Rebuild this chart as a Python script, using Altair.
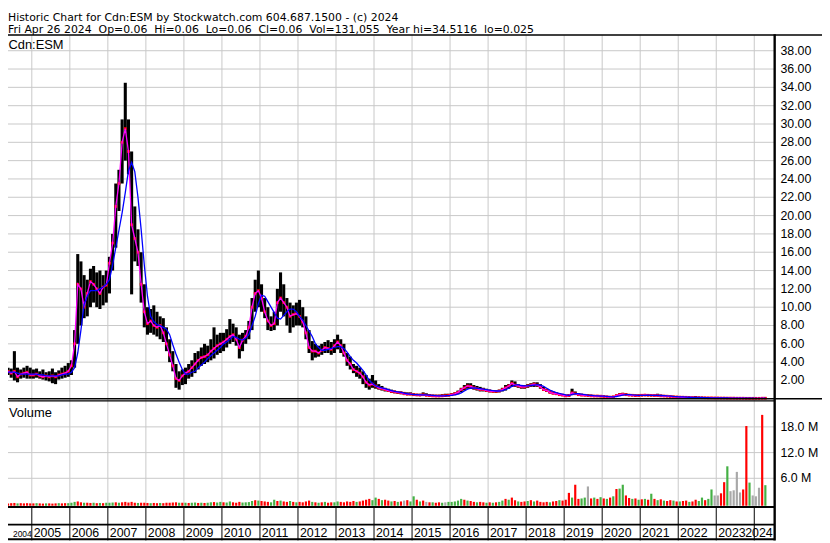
import altair as alt
import pandas as pd

# ---------------- data (monthly, May 2004 .. Apr 2024) ----------------
START_YEAR, START_MONTH = 2004, 5

HI = [
    3.4, 3.3, 5.2, 3.4, 3.2, 3.4, 3.6, 3.4,                                  # 2004 May-Dec
    3.2, 3.3, 3.0, 3.2, 2.9, 3.0, 3.3, 2.9, 3.1, 3.4, 3.6, 3.9,              # 2005
    4.2, 7.5, 15.8, 15.0, 13.5, 13.0, 14.2, 14.5, 13.8, 14.0, 13.5, 14.0,    # 2006
    15.5, 18.0, 23.5, 25.0, 30.5, 34.5, 30.5, 27.0, 21.0, 18.5, 16.0, 12.5,  # 2007
    10.0, 9.8, 10.2, 9.5, 9.0, 8.8, 7.8, 6.5, 5.2, 3.8, 3.0, 3.2,            # 2008
    3.4, 3.8, 4.2, 5.0, 5.2, 5.6, 6.0, 5.8, 6.5, 7.8, 7.0, 7.2,              # 2009
    7.2, 7.6, 8.7, 8.2, 7.8, 7.0, 7.2, 7.5, 8.5, 11.0, 13.0, 14.0,           # 2010
    12.5, 11.0, 10.0, 9.0, 9.5, 12.0, 13.8, 12.5, 11.0, 10.5, 10.2, 10.5,    # 2011
    10.8, 10.0, 9.0, 7.5, 6.3, 6.0, 5.8, 6.0, 6.2, 6.4, 6.2, 6.5,            # 2012
    7.0, 6.5, 6.0, 5.0, 4.6, 3.8, 3.6, 3.4, 3.0, 2.6, 2.2, 2.6,              # 2013
    2.0, 1.6, 1.4, 1.2, 1.1, 1.0, 0.9, 0.85, 0.8, 0.75, 0.7, 0.7,            # 2014
    0.6, 0.55, 0.55, 0.7, 0.6, 0.5, 0.45, 0.45, 0.45, 0.5, 0.55, 0.55,       # 2015
    0.6, 0.7, 0.9, 1.2, 1.5, 1.7, 1.7, 1.5, 1.4, 1.3, 1.2, 1.1,              # 2016
    1.0, 0.95, 0.95, 1.0, 1.2, 1.5, 1.6, 2.0, 1.9, 1.6, 1.5, 1.5,            # 2017
    1.6, 1.7, 1.8, 1.8, 1.6, 1.3, 1.1, 0.9, 0.8, 0.7, 0.6, 0.5,              # 2018
    0.45, 0.5, 1.1, 0.8, 0.6, 0.55, 0.5, 0.5, 0.45, 0.4, 0.4, 0.4,           # 2019
    0.35, 0.3, 0.28, 0.3, 0.45, 0.6, 0.65, 0.6, 0.5, 0.5, 0.45, 0.45,        # 2020
    0.5, 0.5, 0.48, 0.45, 0.45, 0.55, 0.45, 0.4, 0.38, 0.35, 0.32, 0.3,      # 2021
    0.25, 0.24, 0.22, 0.2, 0.2, 0.3, 0.18, 0.16, 0.15, 0.14, 0.14, 0.13,     # 2022
    0.12, 0.11, 0.1, 0.1, 0.09, 0.09, 0.09, 0.08, 0.08, 0.08, 0.08, 0.08,    # 2023
    0.08, 0.07, 0.08, 0.07,                                                  # 2024 Jan-Apr
]

LO = [
    2.6, 2.3, 2.0, 1.8, 2.2, 2.3, 2.2, 2.2,
    2.2, 2.3, 2.2, 2.1, 2.0, 1.9, 1.7, 1.6, 2.1, 2.2, 2.3, 2.4,
    2.6, 3.4, 6.0, 8.0, 8.8, 9.0, 10.0, 10.5, 10.0, 9.8, 10.2, 10.5,
    11.5, 14.0, 16.5, 20.5, 23.5, 26.0, 24.5, 11.4, 15.0, 14.5, 10.5, 7.8,
    7.0, 7.2, 7.0, 6.8, 6.5, 6.2, 5.2, 4.0, 3.0, 1.2, 1.0, 1.5,
    1.6, 2.2, 2.4, 2.8, 3.2, 3.6, 3.8, 4.0, 4.2, 4.4, 4.8, 5.0,
    5.2, 5.6, 6.0, 6.2, 5.8, 4.4, 5.2, 6.0, 6.5, 7.5, 9.5, 10.0,
    9.5, 8.8, 7.5, 7.4, 7.5, 8.0, 9.5, 9.0, 8.0, 7.2, 7.8, 8.0,
    8.0, 7.8, 6.5, 5.0, 4.2, 4.5, 4.6, 4.8, 5.0, 5.0, 4.8, 5.0,
    5.4, 5.0, 4.6, 3.6, 3.2, 2.8, 2.4, 2.2, 1.6, 1.2, 1.0, 1.2,
    1.1, 1.0, 0.9, 0.8, 0.75, 0.65, 0.6, 0.55, 0.5, 0.45, 0.4, 0.4,
    0.35, 0.35, 0.3, 0.3, 0.3, 0.28, 0.25, 0.22, 0.22, 0.25, 0.25, 0.28,
    0.35, 0.4, 0.5, 0.7, 0.9, 1.1, 1.1, 1.0, 0.9, 0.8, 0.8, 0.75,
    0.7, 0.7, 0.65, 0.7, 0.8, 0.9, 1.1, 1.3, 1.3, 1.2, 1.1, 1.1,
    1.2, 1.3, 1.3, 1.3, 1.1, 0.9, 0.75, 0.6, 0.5, 0.45, 0.35, 0.3,
    0.25, 0.25, 0.4, 0.45, 0.35, 0.3, 0.3, 0.28, 0.25, 0.22, 0.22, 0.2,
    0.2, 0.18, 0.12, 0.15, 0.2, 0.35, 0.4, 0.38, 0.32, 0.3, 0.28, 0.28,
    0.3, 0.32, 0.3, 0.3, 0.28, 0.28, 0.25, 0.25, 0.22, 0.2, 0.18, 0.15,
    0.14, 0.13, 0.12, 0.12, 0.1, 0.1, 0.1, 0.09, 0.08, 0.08, 0.07, 0.07,
    0.06, 0.06, 0.05, 0.05, 0.05, 0.05, 0.04, 0.04, 0.04, 0.03, 0.03, 0.03,
    0.03, 0.03, 0.03, 0.04,
]

CL = [
    3.0, 2.8, 3.0, 2.4, 2.7, 2.8, 2.9, 2.6,
    2.6, 2.7, 2.5, 2.4, 2.5, 2.4, 2.5, 2.4, 2.6, 2.7, 2.8, 3.0,
    3.6, 6.0, 12.5, 12.0, 10.0, 11.5, 12.8, 12.5, 12.0, 11.5, 12.2, 12.4,
    14.8, 17.0, 21.0, 23.5, 28.0, 29.5, 27.0, 19.0, 17.5, 16.0, 12.5, 9.5,
    8.2, 8.5, 8.0, 7.8, 8.0, 7.2, 6.0, 4.8, 3.6, 2.2, 2.0, 2.5,
    2.8, 3.0, 3.4, 3.8, 4.2, 4.5, 4.6, 4.8, 5.2, 5.5, 5.8, 6.0,
    6.2, 6.5, 6.8, 7.0, 6.5, 5.6, 6.4, 6.8, 7.8, 10.0, 11.5, 11.8,
    11.0, 9.5, 8.5, 8.0, 8.2, 10.5, 11.0, 10.5, 10.0, 9.0, 9.2, 9.3,
    9.0, 8.4, 7.2, 5.6, 5.2, 5.2, 5.0, 5.3, 5.6, 5.5, 5.4, 5.8,
    6.2, 5.8, 5.0, 4.2, 3.8, 3.2, 3.0, 2.8, 2.4, 1.8, 1.5, 1.6,
    1.4, 1.2, 1.1, 1.0, 0.9, 0.8, 0.75, 0.7, 0.65, 0.55, 0.5, 0.5,
    0.45, 0.42, 0.4, 0.45, 0.38, 0.35, 0.32, 0.3, 0.3, 0.32, 0.35, 0.38,
    0.45, 0.55, 0.7, 1.0, 1.2, 1.4, 1.35, 1.2, 1.1, 1.0, 1.0, 0.9,
    0.85, 0.8, 0.8, 0.85, 1.0, 1.2, 1.4, 1.7, 1.5, 1.4, 1.3, 1.3,
    1.4, 1.5, 1.6, 1.5, 1.3, 1.0, 0.9, 0.7, 0.6, 0.55, 0.45, 0.4,
    0.32, 0.35, 0.65, 0.55, 0.45, 0.4, 0.38, 0.35, 0.32, 0.3, 0.3, 0.28,
    0.25, 0.22, 0.18, 0.22, 0.35, 0.45, 0.5, 0.45, 0.4, 0.38, 0.35, 0.36,
    0.38, 0.4, 0.38, 0.37, 0.36, 0.36, 0.32, 0.3, 0.28, 0.25, 0.22, 0.2,
    0.18, 0.17, 0.16, 0.15, 0.14, 0.13, 0.13, 0.12, 0.11, 0.1, 0.1, 0.09,
    0.09, 0.08, 0.08, 0.07, 0.07, 0.07, 0.06, 0.06, 0.06, 0.05, 0.05, 0.05,
    0.05, 0.05, 0.06, 0.06,
]

# long moving average (blue line)
MA = [
    2.9, 2.9, 2.9, 2.8, 2.7, 2.7, 2.7, 2.7,
    2.7, 2.7, 2.6, 2.6, 2.5, 2.5, 2.5, 2.5, 2.5, 2.6, 2.7, 2.7,
    2.9, 3.4, 5.0, 7.5, 10.3, 11.2, 11.8, 11.8, 11.8, 12.0, 12.2, 12.5,
    13.0, 14.6, 16.5, 18.4, 20.3, 22.5, 24.9, 25.8, 24.8, 22.0, 18.5, 14.6,
    11.2, 9.0, 8.4, 8.1, 8.0, 7.8, 7.6, 7.0, 5.9, 4.9, 4.0, 3.2,
    2.7, 2.7, 2.9, 3.0, 3.4, 3.7, 4.0, 4.4, 4.7, 5.0, 5.3, 5.6,
    6.0, 6.2, 6.5, 6.8, 6.7, 6.5, 6.4, 6.6, 7.0, 8.0, 9.0, 10.4,
    11.3, 11.2, 10.6, 10.0, 9.4, 8.8, 8.7, 9.1, 9.5, 9.8, 9.8, 9.5,
    9.0, 8.6, 8.0, 7.4, 6.8, 6.0, 5.6, 5.3, 5.3, 5.4, 5.5, 5.6,
    5.7, 5.7, 5.5, 5.1, 4.6, 4.2, 3.9, 3.5, 3.1, 2.6, 2.0, 1.7,
    1.4, 1.3, 1.2, 1.1, 1.0, 0.9, 0.8, 0.75, 0.7, 0.62, 0.55, 0.5,
    0.47, 0.45, 0.43, 0.42, 0.42, 0.4, 0.37, 0.34, 0.32, 0.32, 0.33, 0.35,
    0.38, 0.42, 0.5, 0.65, 0.85, 1.05, 1.15, 1.2, 1.15, 1.1, 1.05, 1.0,
    0.95, 0.9, 0.85, 0.85, 0.9, 1.0, 1.15, 1.35, 1.5, 1.55, 1.45, 1.4,
    1.4, 1.45, 1.5, 1.55, 1.5, 1.35, 1.15, 0.95, 0.8, 0.68, 0.58, 0.5,
    0.42, 0.38, 0.45, 0.55, 0.55, 0.5, 0.45, 0.4, 0.37, 0.34, 0.32, 0.3,
    0.29, 0.27, 0.24, 0.22, 0.25, 0.32, 0.4, 0.45, 0.45, 0.42, 0.4, 0.38,
    0.38, 0.38, 0.39, 0.38, 0.37, 0.37, 0.36, 0.34, 0.31, 0.29, 0.26, 0.24,
    0.22, 0.2, 0.18, 0.17, 0.16, 0.15, 0.14, 0.14, 0.13, 0.12, 0.11, 0.11,
    0.1, 0.095, 0.09, 0.085, 0.08, 0.075, 0.07, 0.07, 0.065, 0.06, 0.06, 0.06,
    0.055, 0.055, 0.055, 0.06,
]

# volume in millions and bar colour code (r = down, g = up, k = unchanged)
VOL = [
    0.15, 0.2, 0.25, 0.15, 0.2, 0.15, 0.2, 0.15,
    0.15, 0.2, 0.15, 0.1, 0.15, 0.15, 0.1, 0.15, 0.2, 0.15, 0.2, 0.2,
    0.3, 0.5, 0.6, 0.4, 0.3, 0.3, 0.25, 0.3, 0.2, 0.25, 0.2, 0.3,
    0.3, 0.35, 0.4, 0.3, 0.4, 0.5, 0.35, 0.5, 0.3, 0.25, 0.3, 0.3,
    0.25, 0.2, 0.25, 0.2, 0.25, 0.2, 0.3, 0.3, 0.35, 0.4, 0.3, 0.3,
    0.3, 0.25, 0.3, 0.35, 0.25, 0.3, 0.25, 0.3, 0.4, 0.45, 0.35, 0.5,
    0.4, 0.35, 0.6, 0.4, 0.3, 0.5, 0.35, 0.4, 0.45, 0.7, 0.9, 0.8,
    0.7, 0.6, 0.5, 0.4, 1.0, 0.7, 0.8, 0.6, 0.5, 0.7, 0.5, 0.4,
    0.5, 0.4, 0.6, 0.8, 0.5, 0.4, 0.3, 0.4, 0.5, 0.3, 0.4, 0.4,
    0.6, 0.5, 0.4, 0.6, 0.5, 0.7, 0.5, 0.6, 0.8, 1.0, 1.2, 0.9,
    1.5, 1.2, 0.9, 1.0, 0.8, 0.6, 0.7, 0.5, 0.6, 0.8, 0.9, 0.6,
    1.8, 1.0, 0.6, 0.8, 0.5, 0.4, 0.4, 0.3, 0.4, 0.3, 0.4, 0.5,
    0.5, 0.6, 0.8, 1.2, 1.0, 0.8, 0.7, 0.5, 0.4, 0.5, 0.4, 0.3,
    0.4, 0.3, 0.4, 0.5, 0.8, 1.2, 1.0, 1.5, 0.9, 0.6, 0.5, 0.6,
    0.7, 0.9, 0.6, 0.8, 0.5, 0.4, 0.5, 0.4, 0.6, 0.7, 0.9, 0.8,
    1.0, 2.6, 1.5, 4.5, 1.2, 1.3, 1.5, 4.1, 1.3, 1.5, 1.2, 1.6,
    1.3, 1.2, 1.5, 1.8, 3.5, 3.6, 4.5, 2.0, 1.4, 1.2, 1.3, 1.0,
    1.1, 1.2, 1.0, 2.4, 1.2, 0.9, 1.1, 0.8, 0.7, 0.9, 0.8, 0.6,
    0.6, 0.7, 0.8, 0.5, 0.6, 1.0, 0.7, 1.5, 0.9, 1.2, 3.4, 2.0,
    2.0, 2.5, 5.1, 8.8, 3.0, 3.2, 7.5, 2.7, 3.4, 18.2, 5.0, 2.0,
    1.8, 3.8, 20.8, 4.4,
]
VCOL = (
    "rrrgrrrr"
    "rgrrgrrrgrrg"
    "ggrrgrrgrgrg"
    "ggrgrrrrrgrr"
    "rgrrgrrrrrgr"
    "grggrgrggrgg"
    "rggrrrggggrg"
    "rrrggrgrrgrg"
    "rrrrgrgrgrrg"
    "grrrrrgrrrrg"
    "grgrrgrgrkrg"
    "grgrkrgrrgkg"
    "ggggrgrrgrrg"
    "rgrggrgrrgrr"
    "grgrrrrgrrgr"
    "rrgrrggkrgrg"
    "rgrgrggrrgrg"
    "rgrgrgrgrrgr"
    "grrgrrggrggk"
    "krrgkkkkrrgk"
    "kkrg"
)

YEAR_LINES = list(range(2005, 2025))
YEAR_LABELS = [str(y) for y in range(2004, 2025)]
YEAR_LABEL_POS = [2004.505, 2005.05, 2006.05, 2007.05, 2008.05, 2009.05, 2010.05,
                  2011.05, 2012.05, 2013.05, 2014.05, 2015.05, 2016.05, 2017.05,
                  2018.05, 2019.05, 2020.05, 2021.05, 2022.05, 2023.05, 2023.76]
YEAR_LABEL_SIZE = [8.5] + [12.5] * 20
PRICE_TICKS = [2, 4, 6, 8, 10, 12, 14, 16, 18, 20, 22, 24, 26, 28, 30, 32, 34, 36, 38]
VOL_TICKS = [6, 12, 18]
VOL_LABELS = ["6.0 M", "12.0 M", "18.0 M"]

HEADER1 = "Historic Chart for Cdn:ESM by Stockwatch.com 604.687.1500 - (c) 2024"
HEADER2 = ("Fri Apr 26 2024 \u00a0Op=0.06 \u00a0Hi=0.06 \u00a0Lo=0.06 \u00a0Cl=0.06 "
           "\u00a0Vol=131,055 \u00a0Year hi=34.5116 \u00a0lo=0.025")

# ---------------- table ----------------
n = len(HI)
months = [(START_YEAR + (START_MONTH - 1 + i) // 12, (START_MONTH - 1 + i) % 12 + 1) for i in range(n)]
df = pd.DataFrame({
    "t": [y + (m - 0.5) / 12 for y, m in months],
    "hi": HI, "lo": LO, "cl": CL, "ma": MA, "vol": VOL, "vc": list(VCOL),
})

# ---------------- layout (pixels inside the svg) ----------------
PW, TW, TH = 774, 822, 535
FONT = "Liberation Sans"
xs = alt.Scale(domain=[2004.504, 2024.401], range=[0, PW], nice=False, zero=False)
py = alt.Scale(domain=[0, 39.7], range=[392, 24.78], nice=False, zero=False)
vy = alt.Scale(domain=[-0.4, 24], range=[500, 394.4], nice=False, zero=False)

one = pd.DataFrame({"a": [0]})


def hline(y, x1, x2, w, color="black"):
    return alt.Chart(one).mark_rule(color=color, strokeWidth=w).encode(
        x=alt.value(x1), x2=alt.value(x2), y=alt.value(y))


def label(text, x, y, size=13, font=FONT):
    return alt.Chart(pd.DataFrame({"s": [text]})).mark_text(
        font=font, fontSize=size, align="left", baseline="alphabetic", color="black"
    ).encode(text="s:N", x=alt.value(x), y=alt.value(y))


years = pd.DataFrame({"yr": YEAR_LINES})
grid_v = alt.Chart(years).mark_rule(color="#c8c8c8", strokeWidth=1).encode(
    x=alt.X("yr:Q", scale=xs, axis=None), y=alt.value(25), y2=alt.value(501))
band_v = alt.Chart(years).mark_rule(color="black", strokeWidth=1).encode(
    x=alt.X("yr:Q", scale=xs, axis=None), y=alt.value(502), y2=alt.value(535))

pt = pd.DataFrame({"v": PRICE_TICKS})
grid_p = alt.Chart(pt).mark_rule(color="#c8c8c8", strokeWidth=1).encode(
    y=alt.Y("v:Q", scale=py, axis=None), x=alt.value(0), x2=alt.value(PW))
lab_p = alt.Chart(pt).mark_text(font=FONT, fontSize=12.5, align="left", baseline="middle",
                                color="black").encode(
    y=alt.Y("v:Q", scale=py, axis=None), x=alt.value(780), text=alt.Text("v:Q", format=".2f"))

vt = pd.DataFrame({"v": VOL_TICKS, "lab": VOL_LABELS})
grid_vol = alt.Chart(vt).mark_rule(color="#c8c8c8", strokeWidth=1).encode(
    y=alt.Y("v:Q", scale=vy, axis=None), x=alt.value(0), x2=alt.value(PW))
lab_vol = alt.Chart(vt).mark_text(font=FONT, fontSize=12.5, align="left", baseline="middle",
                                  color="black").encode(
    y=alt.Y("v:Q", scale=vy, axis=None), x=alt.value(780), text="lab:N")

base = alt.Chart(df)
bars = base.mark_rule(color="black", strokeWidth=3.1).encode(
    x=alt.X("t:Q", scale=xs, axis=None),
    y=alt.Y("hi:Q", scale=py, axis=None), y2="lo:Q")
closes = base.mark_square(color="#ff0000", size=8, opacity=1).encode(
    x=alt.X("t:Q", scale=xs, axis=None), y=alt.Y("cl:Q", scale=py, axis=None))
mag = base.mark_line(color="#ff00ff", strokeWidth=1.3).encode(
    x=alt.X("t:Q", scale=xs, axis=None), y=alt.Y("cl:Q", scale=py, axis=None))
blue = base.mark_line(color="#0000ff", strokeWidth=1.3).encode(
    x=alt.X("t:Q", scale=xs, axis=None), y=alt.Y("ma:Q", scale=py, axis=None))
volbars = base.mark_bar(width=2.2).encode(
    x=alt.X("t:Q", scale=xs, axis=None),
    y=alt.Y("vol:Q", scale=vy, axis=None), y2=alt.datum(-0.4),
    color=alt.Color("vc:N", scale=alt.Scale(domain=["r", "g", "k"],
                                            range=["#ff0000", "#44b044", "#a8a8a8"]),
                    legend=None))

yl = pd.DataFrame({"pos": YEAR_LABEL_POS, "lab": YEAR_LABELS, "fs": YEAR_LABEL_SIZE})
year_text = alt.Chart(yl).mark_text(font=FONT, align="left",
                                    baseline="alphabetic", color="black").encode(
    x=alt.X("pos:Q", scale=xs, axis=None), y=alt.value(531.5), text="lab:N",
    size=alt.Size("fs:Q", scale=None, legend=None))

chart = alt.layer(
    grid_v, grid_p, grid_vol, band_v,
    bars, closes, mag, blue, volbars,
    hline(24.6, 0, TW, 1.4), hline(392, 0, TW, 1.4), hline(394.2, 0, PW, 1.2),
    hline(501.3, 0, PW, 2.2), hline(519, 0, PW, 1.8), hline(533.8, 0, PW, 2),
    alt.Chart(one).mark_rule(color="black", strokeWidth=2.4).encode(
        x=alt.value(774.2), y=alt.value(24), y2=alt.value(TH)),
    lab_p, lab_vol, year_text,
    label(HEADER1, 0, 10.2, 11, "DejaVu Sans"), label(HEADER2, 0, 22.6, 11, "DejaVu Sans"),
    label("Cdn:ESM", 0.5, 38.5), label("Volume", 1, 410.5),
).resolve_scale(y="independent", color="independent", size="independent").properties(
    width=TW, height=TH, padding=0,
    autosize=alt.AutoSizeParams(type="none"), background="white",
).configure_view(strokeWidth=0)

chart.save("out.html", embed_options={"renderer": "svg", "actions": False})
